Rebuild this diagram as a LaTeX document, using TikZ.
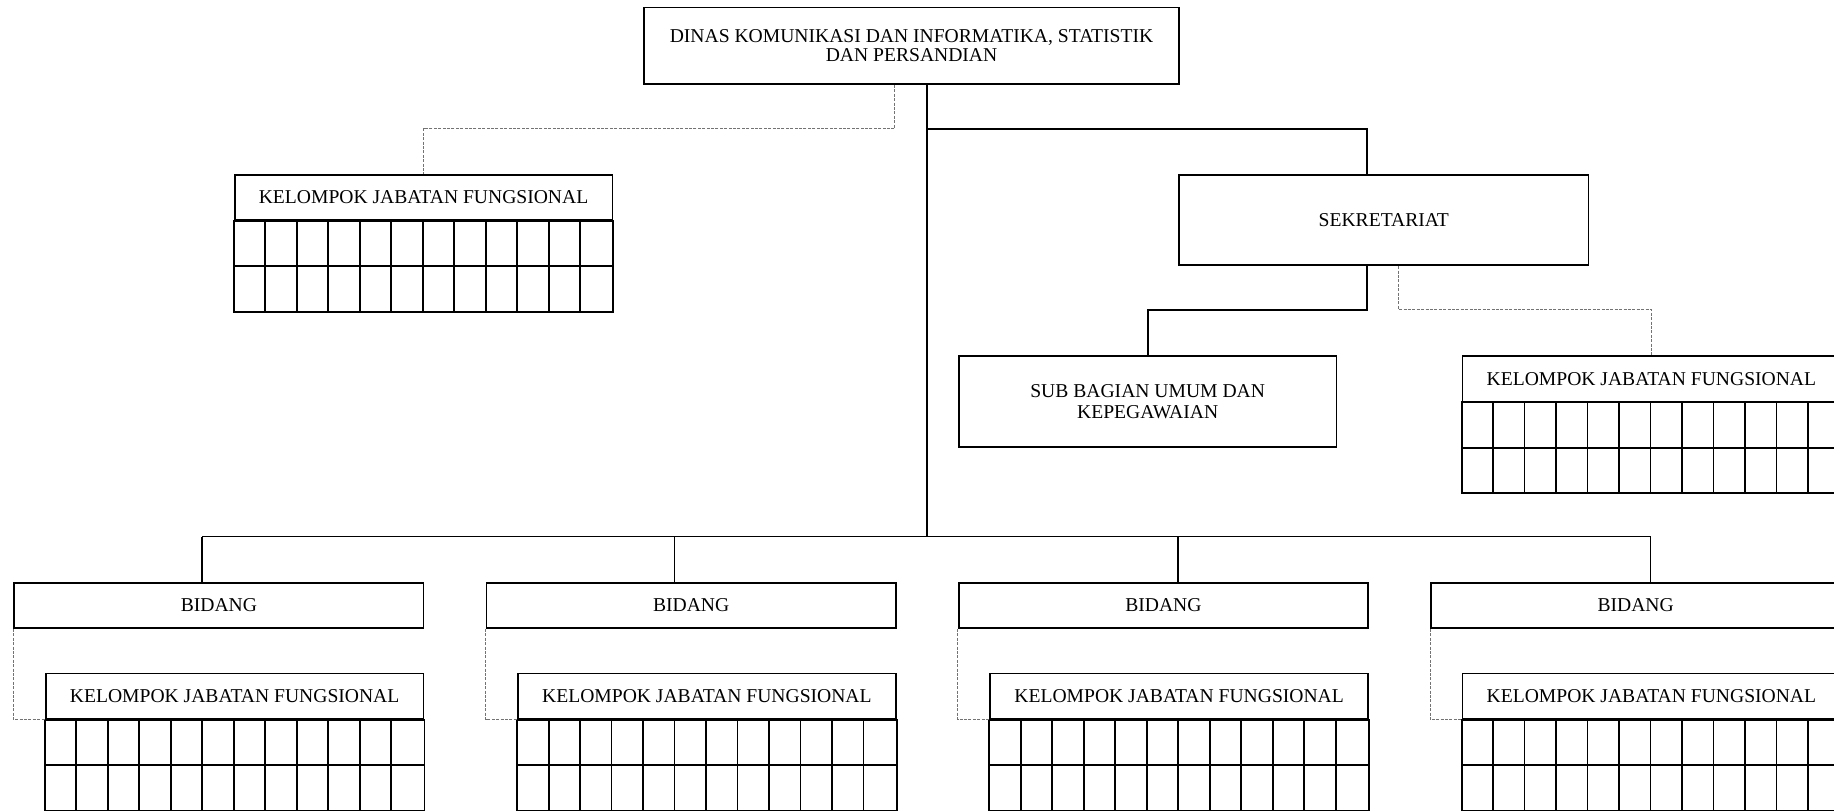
\documentclass[tikz,border=0pt]{standalone}
\usepackage{fontspec}
\setmainfont{Liberation Serif}
\usetikzlibrary{calc}

% Org chart on a grid: one x unit = one table column, one y unit = one row (y grows downwards)
\tikzset{
  box/.style={draw, rectangle, line width=0.9pt, inner sep=0pt, align=center,
              font=\fontsize{9.8}{10.3}\selectfont},
  link/.style={line width=0.9pt},
  fn/.style={draw=black!55, line width=0.5pt, dash pattern=on 1.5pt off 0.7pt},
  cellline/.style={line width=0.9pt},
}

% Functional group: title row plus two rows of twelve cells
% #1 name, #2 left column, #3 top row
\newcommand{\kjfgroup}[3]{%
  \node[box, minimum width=188.88pt, minimum height=22.67pt] (#1) at (#2+6,#3+0.5) {KELOMPOK JABATAN FUNGSIONAL};
  \draw[cellline] (#1.south west) rectangle ($(#1.south east)+(0,2)$);
  \draw[cellline] ($(#1.south west)+(0,1)$) -- ($(#1.south east)+(0,1)$);
  \foreach \c in {1,...,11}
    \draw[cellline] ($(#1.south west)+(\c,0)$) -- ($(#1.south west)+(\c,2)$);
}

\begin{document}
\begin{tikzpicture}[x=15.74pt, y=-22.67pt]
  \clip (-0.454,-1.853) rectangle (57.80,16.03);

  % head office
  \node[box, minimum width=267.58pt, minimum height=38.25pt,
        font=\fontsize{9.8}{9.4}\selectfont] (dinas) at (28.5,-0.8435)
        {DINAS KOMUNIKASI DAN INFORMATIKA, STATISTIK\\DAN PERSANDIAN};

  % secretariat branch
  \node[box, minimum width=204.62pt, minimum height=45.34pt] (sek) at (43.5,3) {SEKRETARIAT};
  \node[box, minimum width=188.88pt, minimum height=45.34pt] (sub) at (36,7) {SUB BAGIAN UMUM DAN\\KEPEGAWAIAN};

  % functional groups
  \kjfgroup{kjfA}{7}{2}
  \kjfgroup{kjfS}{46}{6}

  % divisions
  \foreach \k/\n in {0/b1,1/b2,2/b3,3/b4}{
    \node[box, minimum width=204.62pt, minimum height=22.67pt] (\n) at (15*\k+6.5,11.5) {BIDANG};
  }
  \kjfgroup{kjf1}{1}{13}
  \kjfgroup{kjf2}{16}{13}
  \kjfgroup{kjf3}{31}{13}
  \kjfgroup{kjf4}{46}{13}

  % solid lines of command
  \coordinate (hub) at (29,1);
  \coordinate (bus) at (29,10);
  \draw[link] (dinas.south -| hub) -- (bus);
  \draw[link] (hub) -| ($(sek.north west)+(6,0)$);
  \draw[link] ($(sek.south west)+(6,0)$) |- ($(sub.north)+(0,-1)$) -- (sub.north);
  \draw[link] ($(b1.north west)+(6,-1)$) -- ($(b4.north west)+(7,-1)$);
  \draw[link] ($(b1.north west)+(6,-1)$) -- ($(b1.north west)+(6,0)$);
  \draw[link] ($(b2.north west)+(6,-1)$) -- ($(b2.north west)+(6,0)$);
  \draw[link] ($(b3.north west)+(7,-1)$) -- ($(b3.north west)+(7,0)$);
  \draw[link] ($(b4.north west)+(7,-1)$) -- ($(b4.north west)+(7,0)$);

  % dashed lines of coordination
  \draw[fn] ($(dinas.south west)+(8,0)$) |- ($(kjfA.north)+(0,-1)$) -- (kjfA.north);
  \draw[fn] ($(sek.south west)+(7,0)$) |- ($(kjfS.north)+(0,-1)$) -- (kjfS.north);
  \draw[fn] (b1.south west) |- (kjf1.south west);
  \draw[fn] (b2.south west) |- (kjf2.south west);
  \draw[fn] (b3.south west) |- (kjf3.south west);
  \draw[fn] (b4.south west) |- (kjf4.south west);
\end{tikzpicture}
\end{document}
